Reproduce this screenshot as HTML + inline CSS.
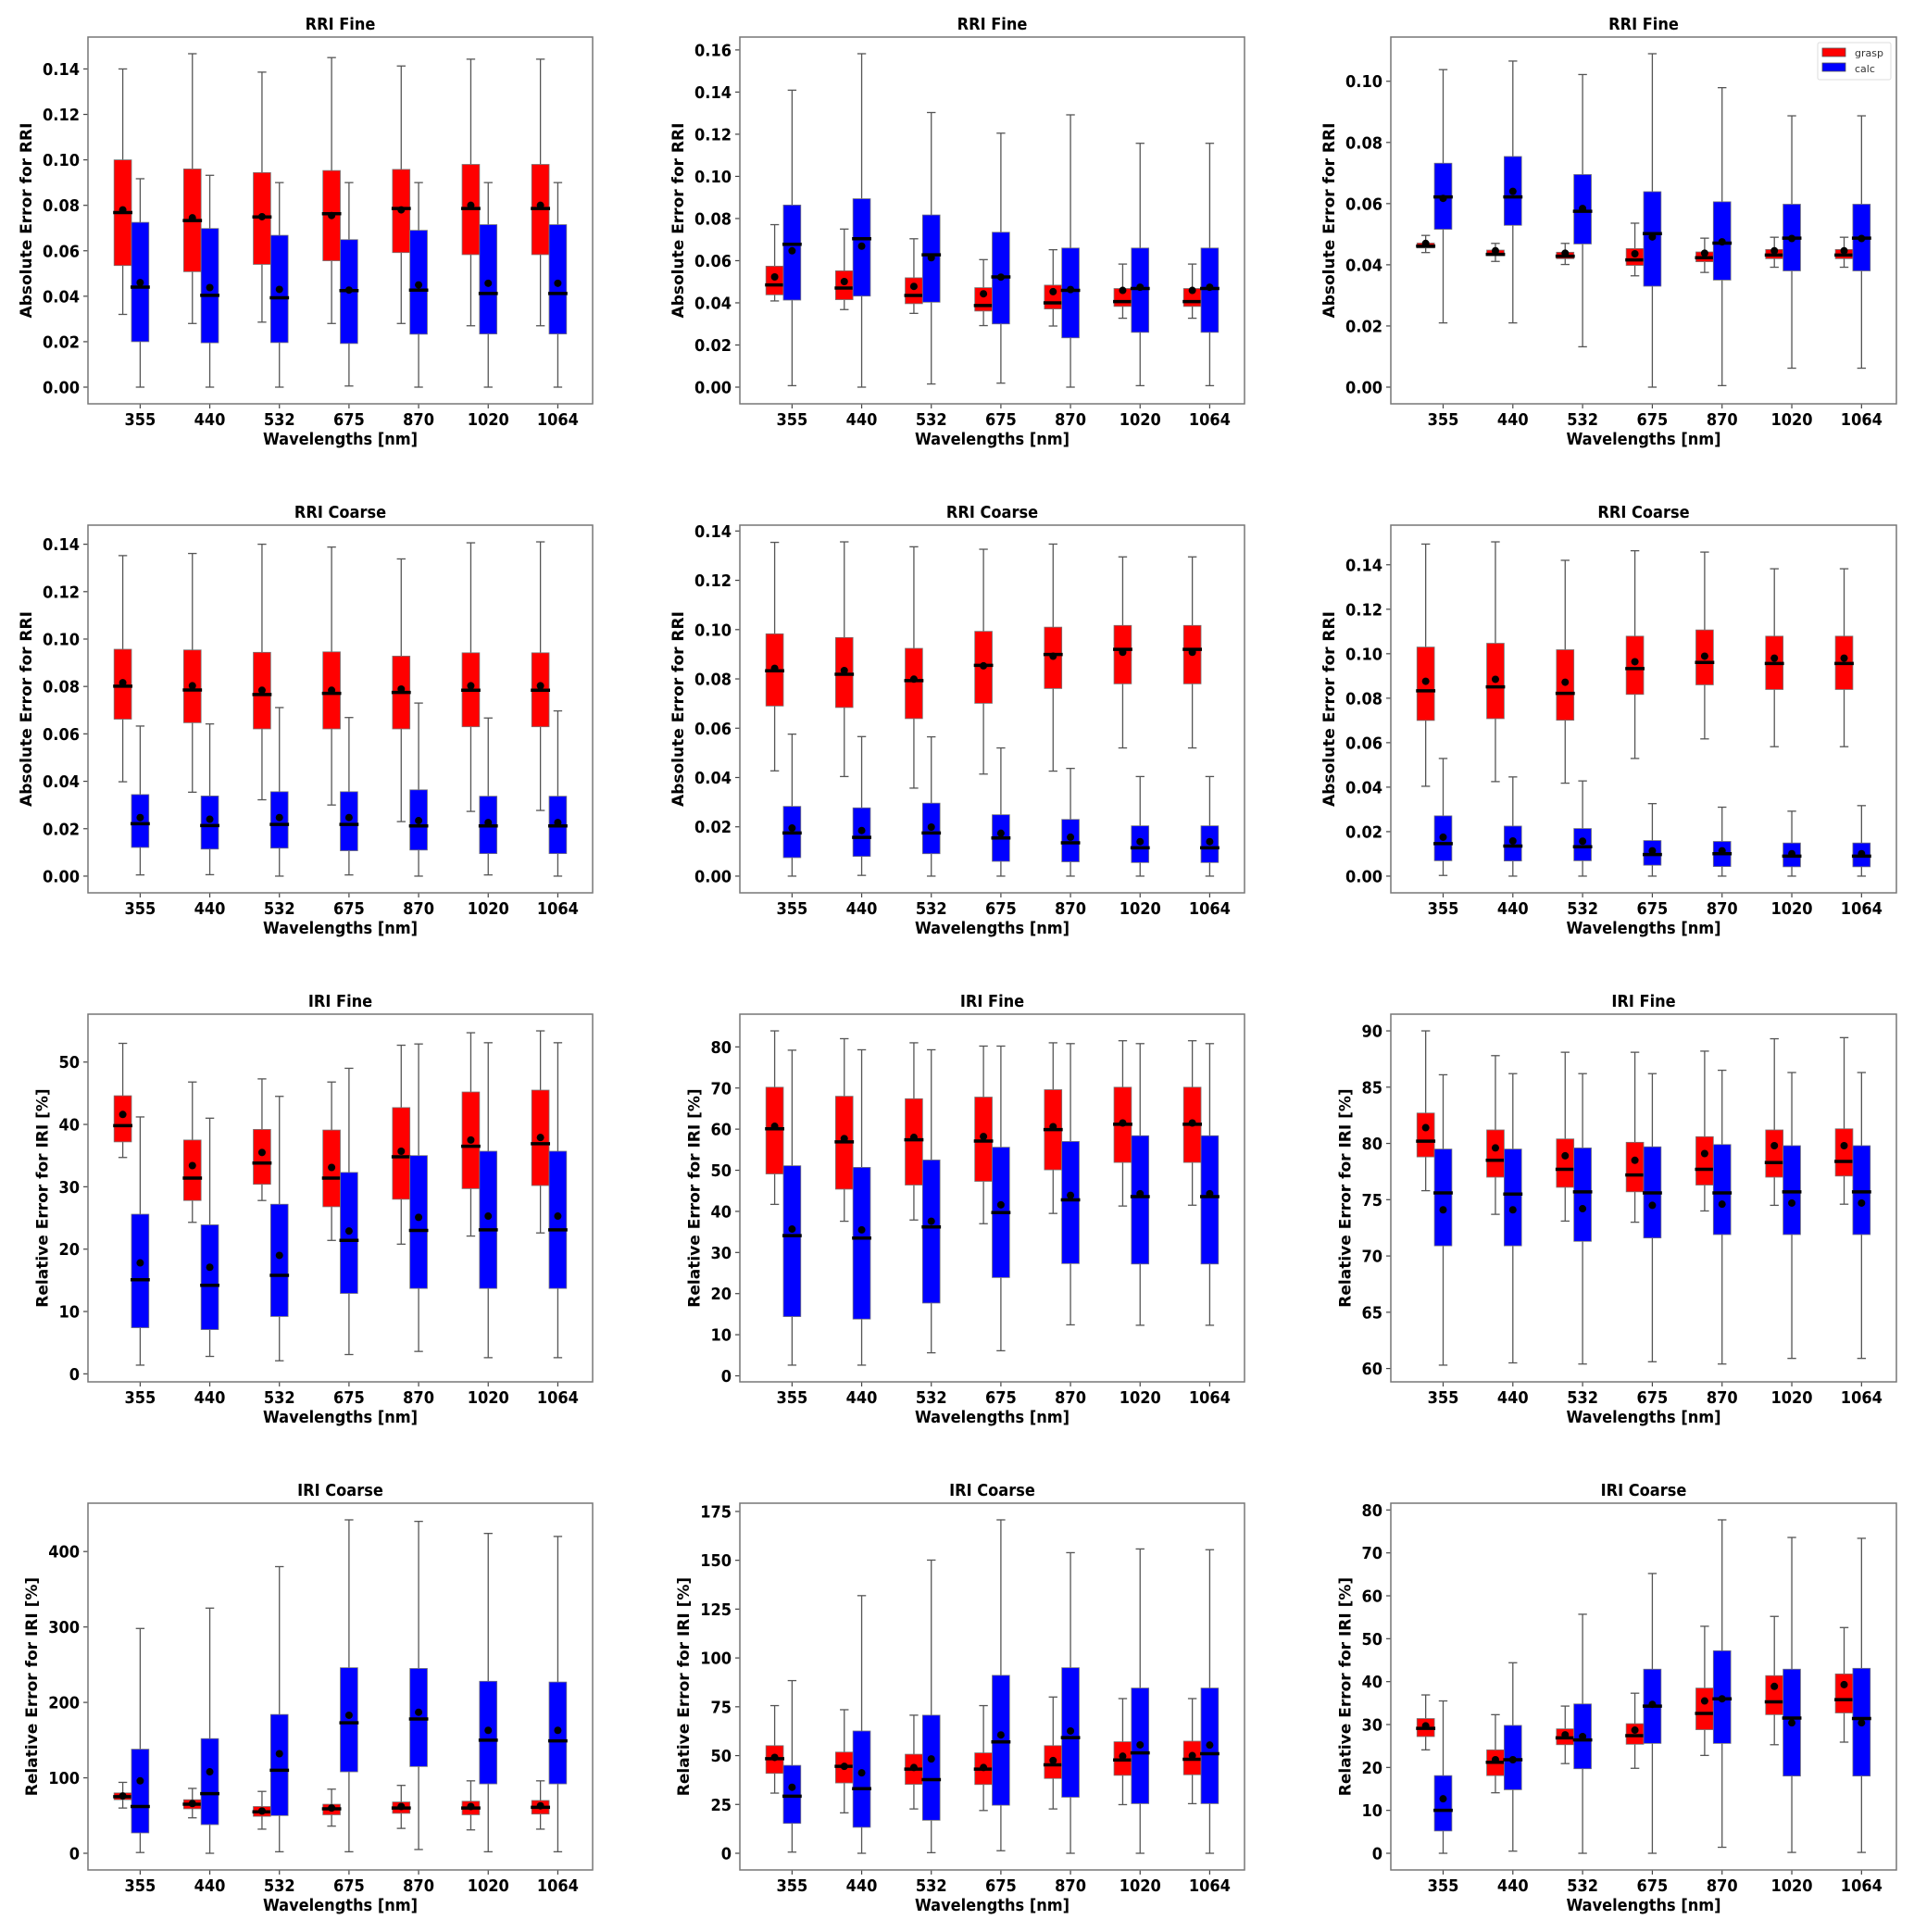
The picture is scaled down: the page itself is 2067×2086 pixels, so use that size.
<!DOCTYPE html>
<html><head><meta charset="utf-8"><title>Boxplots</title>
<style>
html,body{margin:0;padding:0;background:#fff;}
svg{display:block;}
.tk{font-family:"DejaVu Sans Condensed","DejaVu Sans","Liberation Sans",sans-serif;font-stretch:condensed;font-weight:bold;font-size:18px;fill:#000;}
.yl{font-family:"DejaVu Sans","Liberation Sans",sans-serif;font-weight:bold;font-size:17px;fill:#000;}
.lg{font-family:"DejaVu Sans","Liberation Sans",sans-serif;font-size:11px;fill:#333;}
</style></head>
<body>
<svg id="fig" width="2067" height="2086" viewBox="0 0 2067 2086" xmlns="http://www.w3.org/2000/svg"></svg>
<script>
const categories = ["355","440","532","675","870","1020","1064"];
// Panel 1: RRI Fine (col 1)
const p1_gLo=[0.032,0.028,0.0286,0.028,0.028,0.027,0.027];
const p1_gQ1=[0.0535,0.0508,0.054,0.0556,0.0592,0.0583,0.0583];
const p1_gMed=[0.0768,0.0733,0.0749,0.0763,0.0786,0.0786,0.0786];
const p1_gQ3=[0.100,0.096,0.0944,0.0953,0.0958,0.098,0.098];
const p1_gHi=[0.140,0.1467,0.1386,0.145,0.1413,0.1443,0.1443];
const p1_gMean=[0.078,0.0745,0.075,0.0755,0.078,0.080,0.080];
const p1_cLo=[0,0,0,0.0005,0,0,0];
const p1_cQ1=[0.020,0.0195,0.0196,0.0192,0.0233,0.0234,0.0234];
const p1_cMed=[0.044,0.0404,0.0393,0.0425,0.0427,0.0412,0.0412];
const p1_cQ3=[0.0725,0.0698,0.0668,0.0649,0.069,0.0715,0.0715];
const p1_cHi=[0.0917,0.0932,0.090,0.090,0.090,0.090,0.090];
const p1_cMean=[0.046,0.0438,0.043,0.0427,0.045,0.0457,0.0457];
// Panel 2: RRI Fine (col 2)
const p2_gLo=[0.0409,0.0368,0.035,0.0292,0.029,0.0327,0.0327];
const p2_gQ1=[0.0438,0.0415,0.0396,0.0361,0.0371,0.0383,0.0383];
const p2_gMed=[0.0485,0.047,0.0435,0.0387,0.040,0.0406,0.0406];
const p2_gQ3=[0.0574,0.0552,0.0519,0.0472,0.0484,0.0468,0.0468];
const p2_gHi=[0.0771,0.075,0.0704,0.0605,0.0652,0.0584,0.0584];
const p2_gMean=[0.0523,0.0501,0.0478,0.0443,0.0453,0.0459,0.0459];
const p2_cLo=[0.0007,0,0.0015,0.0019,0,0.0007,0.0007];
const p2_cQ1=[0.0413,0.0432,0.0403,0.030,0.0234,0.026,0.026];
const p2_cMed=[0.0678,0.0704,0.0628,0.0523,0.0459,0.0468,0.0468];
const p2_cQ3=[0.0864,0.0894,0.0817,0.0735,0.066,0.066,0.066];
const p2_cHi=[0.1409,0.1582,0.1303,0.1205,0.1292,0.1157,0.1157];
const p2_cMean=[0.0647,0.0669,0.0614,0.0522,0.0463,0.0474,0.0474];
// Panel 3: RRI Fine (col 3)
const p3_gLo=[0.044,0.0411,0.0401,0.0364,0.0375,0.0392,0.0392];
const p3_gQ1=[0.0455,0.043,0.042,0.0398,0.041,0.042,0.042];
const p3_gMed=[0.0461,0.0434,0.0428,0.0416,0.0423,0.0432,0.0432];
const p3_gQ3=[0.0471,0.0448,0.0441,0.0453,0.0442,0.045,0.045];
const p3_gHi=[0.0496,0.047,0.047,0.0536,0.0487,0.049,0.049];
const p3_gMean=[0.047,0.0446,0.0438,0.0436,0.0438,0.0446,0.0446];
const p3_cLo=[0.021,0.021,0.0132,0,0.0005,0.0062,0.0062];
const p3_cQ1=[0.0516,0.0529,0.0468,0.033,0.035,0.038,0.038];
const p3_cMed=[0.0622,0.0622,0.0575,0.0502,0.0471,0.0487,0.0487];
const p3_cQ3=[0.0732,0.0754,0.0695,0.0639,0.0606,0.0598,0.0598];
const p3_cHi=[0.1038,0.1066,0.1022,0.109,0.0979,0.0887,0.0887];
const p3_cMean=[0.0617,0.064,0.0584,0.0491,0.0475,0.0486,0.0486];
// Panel 4: RRI Coarse (col 1)
const p4_gLo=[0.0398,0.0354,0.0322,0.030,0.023,0.0273,0.0277];
const p4_gQ1=[0.0662,0.0647,0.0621,0.0621,0.0621,0.063,0.063];
const p4_gMed=[0.0801,0.0785,0.0766,0.0771,0.0775,0.0784,0.0784];
const p4_gQ3=[0.0957,0.0954,0.0944,0.0946,0.0928,0.0942,0.0942];
const p4_gHi=[0.1352,0.1361,0.140,0.1388,0.1338,0.1406,0.141];
const p4_gMean=[0.0816,0.0803,0.0784,0.0784,0.0789,0.0803,0.0803];
const p4_cLo=[0.0005,0.0006,0,0.0005,0,0.0005,0];
const p4_cQ1=[0.0121,0.0114,0.0118,0.0107,0.011,0.0095,0.0095];
const p4_cMed=[0.0221,0.0213,0.0218,0.0218,0.0212,0.0212,0.0212];
const p4_cQ3=[0.0344,0.0338,0.0356,0.0356,0.0364,0.0337,0.0337];
const p4_cHi=[0.0633,0.0642,0.0711,0.0669,0.073,0.0667,0.0697];
const p4_cMean=[0.0247,0.024,0.0247,0.0247,0.0234,0.0226,0.0226];
// Panel 5: RRI Coarse (col 2)
const p5_gLo=[0.0427,0.0404,0.0357,0.0414,0.0426,0.052,0.052];
const p5_gQ1=[0.069,0.0684,0.0639,0.0701,0.0761,0.078,0.078];
const p5_gMed=[0.0833,0.0819,0.0793,0.0855,0.0899,0.092,0.092];
const p5_gQ3=[0.0983,0.0968,0.0924,0.0993,0.101,0.1017,0.1017];
const p5_gHi=[0.1354,0.1356,0.1336,0.1326,0.1347,0.1295,0.1295];
const p5_gMean=[0.0843,0.0834,0.0799,0.0853,0.0892,0.0908,0.0908];
const p5_cLo=[0,0.0003,0,0,0,0,0];
const p5_cQ1=[0.0075,0.008,0.0091,0.006,0.0058,0.0055,0.0055];
const p5_cMed=[0.0175,0.0157,0.0175,0.0155,0.0135,0.0115,0.0115];
const p5_cQ3=[0.0283,0.0277,0.0296,0.0249,0.023,0.0204,0.0204];
const p5_cHi=[0.0576,0.0566,0.0565,0.052,0.0437,0.0404,0.0404];
const p5_cMean=[0.0195,0.0185,0.0199,0.0174,0.0158,0.014,0.014];
// Panel 6: RRI Coarse (col 3)
const p6_gLo=[0.0404,0.0425,0.0418,0.0529,0.0617,0.0582,0.0582];
const p6_gQ1=[0.070,0.0708,0.0701,0.0817,0.086,0.0839,0.0839];
const p6_gMed=[0.0833,0.0851,0.0822,0.0933,0.0961,0.0956,0.0956];
const p6_gQ3=[0.103,0.1047,0.1018,0.1079,0.1107,0.1079,0.1079];
const p6_gHi=[0.1493,0.1503,0.142,0.1463,0.1457,0.1382,0.1382];
const p6_gMean=[0.0876,0.0885,0.0872,0.0964,0.0989,0.098,0.098];
const p6_cLo=[0.0003,0,0,0,0,0,0];
const p6_cQ1=[0.0069,0.0068,0.0069,0.0049,0.0043,0.0042,0.0042];
const p6_cMed=[0.0146,0.0135,0.0132,0.0097,0.0101,0.009,0.009];
const p6_cQ3=[0.0271,0.0225,0.0214,0.016,0.0156,0.0149,0.0149];
const p6_cHi=[0.0529,0.0446,0.0428,0.0326,0.031,0.0292,0.0317];
const p6_cMean=[0.0175,0.0158,0.0157,0.0114,0.0114,0.0101,0.0101];
// Panel 7: IRI Fine (col 1)
const p7_gLo=[34.7,24.3,27.8,21.4,20.8,22.1,22.6];
const p7_gQ1=[37.2,27.8,30.4,26.8,28.0,29.7,30.2];
const p7_gMed=[39.8,31.4,33.8,31.4,34.8,36.5,36.9];
const p7_gQ3=[44.6,37.5,39.2,39.1,42.7,45.2,45.5];
const p7_gHi=[53.0,46.8,47.3,46.8,52.7,54.7,55.0];
const p7_gMean=[41.6,33.4,35.5,33.1,35.7,37.5,37.9];
const p7_cLo=[1.4,2.8,2.1,3.1,3.6,2.6,2.6];
const p7_cQ1=[7.4,7.1,9.2,12.9,13.7,13.7,13.7];
const p7_cMed=[15.1,14.2,15.8,21.4,23.0,23.1,23.1];
const p7_cQ3=[25.6,23.9,27.2,32.3,35.0,35.7,35.7];
const p7_cHi=[41.2,41.0,44.5,49.0,52.9,53.1,53.1];
const p7_cMean=[17.8,17.1,19.0,22.9,25.1,25.3,25.3];
// Panel 8: IRI Fine (col 2)
const p8_gLo=[41.7,37.6,37.9,37.0,39.5,41.3,41.5];
const p8_gQ1=[49.1,45.4,46.4,47.3,50.1,51.9,51.9];
const p8_gMed=[60.1,56.9,57.4,57.1,59.9,61.2,61.2];
const p8_gQ3=[70.2,68.0,67.4,67.8,69.6,70.2,70.2];
const p8_gHi=[83.9,82.0,81.0,80.2,81.0,81.5,81.5];
const p8_gMean=[60.7,57.7,58.0,58.2,60.6,61.5,61.5];
const p8_cLo=[2.6,2.6,5.6,6.1,12.4,12.3,12.3];
const p8_cQ1=[14.4,13.8,17.7,23.9,27.3,27.2,27.2];
const p8_cMed=[34.1,33.5,36.2,39.7,42.8,43.6,43.6];
const p8_cQ3=[51.1,50.7,52.5,55.6,57.0,58.4,58.4];
const p8_cHi=[79.2,79.3,79.3,80.2,80.8,80.8,80.8];
const p8_cMean=[35.7,35.5,37.6,41.6,43.9,44.3,44.3];
// Panel 9: IRI Fine (col 3)
const p9_gLo=[75.8,73.7,73.1,73.0,74.0,74.5,74.6];
const p9_gQ1=[78.8,77.0,76.1,75.7,76.3,77.0,77.1];
const p9_gMed=[80.2,78.5,77.7,77.2,77.7,78.3,78.4];
const p9_gQ3=[82.7,81.2,80.4,80.1,80.6,81.2,81.3];
const p9_gHi=[90.0,87.8,88.1,88.1,88.2,89.3,89.4];
const p9_gMean=[81.4,79.6,78.9,78.5,79.1,79.8,79.8];
const p9_cLo=[60.3,60.5,60.4,60.6,60.4,60.9,60.9];
const p9_cQ1=[70.9,70.9,71.3,71.6,71.9,71.9,71.9];
const p9_cMed=[75.6,75.5,75.7,75.6,75.6,75.7,75.7];
const p9_cQ3=[79.5,79.5,79.6,79.7,79.9,79.8,79.8];
const p9_cHi=[86.1,86.2,86.2,86.2,86.5,86.3,86.3];
const p9_cMean=[74.1,74.1,74.2,74.5,74.6,74.7,74.7];
// Panel 10: IRI Coarse (col 1)
const p10_gLo=[60,47,32,36,33,31,32];
const p10_gQ1=[71,59,49,51,53,51,52];
const p10_gMed=[75,65,55,59,60,60,61];
const p10_gQ3=[80,71,62,65,68,69,70];
const p10_gHi=[94,86,82,85,90,96,96];
const p10_gMean=[76,66,56,60,62,62,63];
const p10_cLo=[1,0,2,2,5,2,2];
const p10_cQ1=[27,38,50,108,115,92,92];
const p10_cMed=[62,79,110,173,178,150,149];
const p10_cQ3=[138,152,184,246,245,228,227];
const p10_cHi=[298,325,380,442,440,424,420];
const p10_cMean=[96,108,132,183,187,163,163];
// Panel 11: IRI Coarse (col 2)
const p11_gLo=[30.8,20.7,22.7,21.9,22.7,24.9,25.4];
const p11_gQ1=[40.9,36.0,35.3,35.2,38.3,39.9,40.2];
const p11_gMed=[48.4,44.5,43.1,43.1,45.3,47.8,48.1];
const p11_gQ3=[55.1,51.8,50.7,51.4,55.1,57.1,57.4];
const p11_gHi=[75.6,73.5,70.7,75.6,80.0,79.2,79.2];
const p11_gMean=[49.1,44.5,43.9,43.9,47.5,49.7,50.0];
const p11_cLo=[0.6,0,0.3,1.3,0,0,0];
const p11_cQ1=[15.3,13.3,16.9,24.6,28.7,25.4,25.4];
const p11_cMed=[29.2,33.1,37.7,57.0,59.2,51.4,51.0];
const p11_cQ3=[45.0,62.6,70.7,91.1,95.0,84.6,84.6];
const p11_cHi=[88.4,131.9,150.1,170.7,153.9,155.8,155.4];
const p11_cMean=[33.8,41.2,48.3,60.6,62.6,55.5,55.4];
// Panel 12: IRI Coarse (col 3)
const p12_gLo=[24.1,14.1,20.9,19.8,22.8,25.3,25.9];
const p12_gQ1=[27.2,18.1,25.3,25.4,28.8,32.3,32.7];
const p12_gMed=[29.1,21.2,26.9,27.4,32.6,35.3,35.8];
const p12_gQ3=[31.4,24.1,29.0,30.2,38.5,41.4,41.8];
const p12_gHi=[36.9,32.3,34.3,37.3,52.9,55.2,52.6];
const p12_gMean=[29.7,21.8,27.6,28.7,35.5,38.9,39.3];
const p12_cLo=[0,0.5,0,0,1.4,0.2,0.2];
const p12_cQ1=[5.2,14.8,19.7,25.6,25.6,18.0,18.0];
const p12_cMed=[10.0,21.8,26.4,34.3,36.0,31.5,31.4];
const p12_cQ3=[18.1,29.8,34.8,42.9,47.2,42.9,43.1];
const p12_cHi=[35.5,44.4,55.7,65.2,77.7,73.6,73.4];
const p12_cMean=[12.7,21.8,27.2,34.7,36.0,30.4,30.4];

const ticks_rri14=["0.00","0.02","0.04","0.06","0.08","0.10","0.12","0.14"];
const ticks_rri16=["0.00","0.02","0.04","0.06","0.08","0.10","0.12","0.14","0.16"];
const ticks_rri10=["0.00","0.02","0.04","0.06","0.08","0.10"];
const ticks_iri50=["0","10","20","30","40","50"];
const ticks_iri80=["0","10","20","30","40","50","60","70","80"];
const ticks_iri90=["60","65","70","75","80","85","90"];
const ticks_iri400=["0","100","200","300","400"];
const ticks_iri175=["0","25","50","75","100","125","150","175"];

const NS="http://www.w3.org/2000/svg";
const svg=document.getElementById('fig');
const colL=[95,799,1502], colR=[640,1344,2048];
const rowT=[40,567,1095,1623], rowB=[436,964,1492,2019];

function mk(tag,attrs,parent){const e=document.createElementNS(NS,tag);for(const k in attrs)e.setAttribute(k,attrs[k]);(parent||svg).appendChild(e);return e;}

const panels=[
 {t:"RRI Fine",yl:"Absolute Error for RRI",tk:ticks_rri14,p:"p1"},
 {t:"RRI Fine",yl:"Absolute Error for RRI",tk:ticks_rri16,p:"p2"},
 {t:"RRI Fine",yl:"Absolute Error for RRI",tk:ticks_rri10,p:"p3",legend:true},
 {t:"RRI Coarse",yl:"Absolute Error for RRI",tk:ticks_rri14,p:"p4"},
 {t:"RRI Coarse",yl:"Absolute Error for RRI",tk:ticks_rri14,p:"p5"},
 {t:"RRI Coarse",yl:"Absolute Error for RRI",tk:ticks_rri14,p:"p6"},
 {t:"IRI Fine",yl:"Relative Error for IRI [%]",tk:ticks_iri50,p:"p7"},
 {t:"IRI Fine",yl:"Relative Error for IRI [%]",tk:ticks_iri80,p:"p8"},
 {t:"IRI Fine",yl:"Relative Error for IRI [%]",tk:ticks_iri90,p:"p9"},
 {t:"IRI Coarse",yl:"Relative Error for IRI [%]",tk:ticks_iri400,p:"p10"},
 {t:"IRI Coarse",yl:"Relative Error for IRI [%]",tk:ticks_iri175,p:"p11"},
 {t:"IRI Coarse",yl:"Relative Error for IRI [%]",tk:ticks_iri80,p:"p12"}
];
const DATA={p1:[p1_gLo,p1_gQ1,p1_gMed,p1_gQ3,p1_gHi,p1_gMean,p1_cLo,p1_cQ1,p1_cMed,p1_cQ3,p1_cHi,p1_cMean],
p2:[p2_gLo,p2_gQ1,p2_gMed,p2_gQ3,p2_gHi,p2_gMean,p2_cLo,p2_cQ1,p2_cMed,p2_cQ3,p2_cHi,p2_cMean],
p3:[p3_gLo,p3_gQ1,p3_gMed,p3_gQ3,p3_gHi,p3_gMean,p3_cLo,p3_cQ1,p3_cMed,p3_cQ3,p3_cHi,p3_cMean],
p4:[p4_gLo,p4_gQ1,p4_gMed,p4_gQ3,p4_gHi,p4_gMean,p4_cLo,p4_cQ1,p4_cMed,p4_cQ3,p4_cHi,p4_cMean],
p5:[p5_gLo,p5_gQ1,p5_gMed,p5_gQ3,p5_gHi,p5_gMean,p5_cLo,p5_cQ1,p5_cMed,p5_cQ3,p5_cHi,p5_cMean],
p6:[p6_gLo,p6_gQ1,p6_gMed,p6_gQ3,p6_gHi,p6_gMean,p6_cLo,p6_cQ1,p6_cMed,p6_cQ3,p6_cHi,p6_cMean],
p7:[p7_gLo,p7_gQ1,p7_gMed,p7_gQ3,p7_gHi,p7_gMean,p7_cLo,p7_cQ1,p7_cMed,p7_cQ3,p7_cHi,p7_cMean],
p8:[p8_gLo,p8_gQ1,p8_gMed,p8_gQ3,p8_gHi,p8_gMean,p8_cLo,p8_cQ1,p8_cMed,p8_cQ3,p8_cHi,p8_cMean],
p9:[p9_gLo,p9_gQ1,p9_gMed,p9_gQ3,p9_gHi,p9_gMean,p9_cLo,p9_cQ1,p9_cMed,p9_cQ3,p9_cHi,p9_cMean],
p10:[p10_gLo,p10_gQ1,p10_gMed,p10_gQ3,p10_gHi,p10_gMean,p10_cLo,p10_cQ1,p10_cMed,p10_cQ3,p10_cHi,p10_cMean],
p11:[p11_gLo,p11_gQ1,p11_gMed,p11_gQ3,p11_gHi,p11_gMean,p11_cLo,p11_cQ1,p11_cMed,p11_cQ3,p11_cHi,p11_cMean],
p12:[p12_gLo,p12_gQ1,p12_gMed,p12_gQ3,p12_gHi,p12_gMean,p12_cLo,p12_cQ1,p12_cMed,p12_cQ3,p12_cHi,p12_cMean]};

panels.forEach((P,idx)=>{
  const r=Math.floor(idx/3), c=idx%3;
  const L=colL[c],R=colR[c],T=rowT[r],B=rowB[r];
  const d=DATA[P.p];
  let mn=Infinity,mx=-Infinity;
  d.forEach(a=>a.forEach(v=>{mn=Math.min(mn,v);mx=Math.max(mx,v);}));
  const pad=(mx-mn)*0.05, y0=mn-pad, y1=mx+pad;
  const ys=v=>B-(v-y0)/(y1-y0)*(B-T);
  const xs=u=>L+(u-0.25)/7.25*(R-L);
  const g=mk('g',{});
  
  
  const tt=mk('text',{x:(L+R)/2,y:T-8,'text-anchor':'middle',class:'tk'},g);tt.textContent=P.t;
  
  
  let maxW=0;
  const tg=mk('g',{},g);
  
  
  P.tk.forEach(s=>{
    const y=ys(parseFloat(s));
    mk('line',{x1:L-5,x2:L,y1:y,y2:y,stroke:'#444','stroke-width':1.2},tg);
    const t=mk('text',{x:L-9,y:y+6.5,'text-anchor':'end',class:'tk'},tg);t.textContent=s;
    maxW=Math.max(maxW,t.getComputedTextLength());
  });
  const lx=L-9-maxW-12;
  const yl=mk('text',{x:lx,y:(T+B)/2,'text-anchor':'middle',class:'yl',transform:'rotate(-90 '+lx+' '+((T+B)/2)+')'},g);
  yl.textContent=P.yl;
  
  
  const xg=mk('g',{},g);
  
  
  categories.forEach((cat,i)=>{
    const x=xs(i+1);
    mk('line',{x1:x,x2:x,y1:B,y2:B+5,stroke:'#444','stroke-width':1.2},xg);
    const t=mk('text',{x:x,y:B+23,'text-anchor':'middle',class:'tk'},xg);t.textContent=cat;
  });
  const xl=mk('text',{x:(L+R)/2,y:B+44,'text-anchor':'middle',class:'tk'},g);xl.textContent='Wavelengths [nm]';
  
  
  const series=[{o:0,col:'#ff0000',off:-0.25,n:'grasp'},{o:6,col:'#0000ff',off:0,n:'calc'}];
  const bw=0.25;
  series.forEach(S=>{
    for(let i=0;i<7;i++){
      const lo=d[S.o][i],q1=d[S.o+1][i],med=d[S.o+2][i],q3=d[S.o+3][i],hi=d[S.o+4][i],mean=d[S.o+5][i];
      const cx=xs(i+1+S.off), xa=xs(i+1+S.off-bw/2), xb=xs(i+1+S.off+bw/2), cw=(xb-xa)/4;
      const bg=mk('g',{},g);
      
      
      mk('line',{x1:cx,x2:cx,y1:ys(hi),y2:ys(q3),stroke:'#555','stroke-width':1.3},bg);
      mk('line',{x1:cx,x2:cx,y1:ys(q1),y2:ys(lo),stroke:'#555','stroke-width':1.3},bg);
      mk('line',{x1:cx-cw,x2:cx+cw,y1:ys(hi),y2:ys(hi),stroke:'#555','stroke-width':1.3},bg);
      mk('line',{x1:cx-cw,x2:cx+cw,y1:ys(lo),y2:ys(lo),stroke:'#555','stroke-width':1.3},bg);
      mk('rect',{x:xa,y:ys(q3),width:xb-xa,height:Math.max(0.5,ys(q1)-ys(q3)),fill:S.col,stroke:'#777','stroke-width':0.8},bg);
      mk('line',{x1:xa-1,x2:xb+1,y1:ys(med),y2:ys(med),stroke:'#000','stroke-width':3.5},bg);
      mk('circle',{cx:cx,cy:ys(mean),r:4,fill:'#000'},bg);
    }
  });
  const fr=mk('rect',{x:L,y:T,width:R-L,height:B-T,fill:'none',stroke:'#777','stroke-width':1.5},g);
  
  
  if(P.legend){
    const lg=mk('g',{},g);
    
    
    mk('rect',{x:R-85,y:T+6,width:79,height:40,fill:'#fff',stroke:'#ddd','stroke-width':1,rx:2},lg);
    const e1=mk('rect',{x:R-80,y:T+12,width:25,height:9,fill:'#ff0000',stroke:'#555','stroke-width':0.8},lg);
    
    
    const t1=mk('text',{x:R-45,y:T+21,class:'lg'},lg);t1.textContent='grasp';
    const e2=mk('rect',{x:R-80,y:T+28,width:25,height:9,fill:'#0000ff',stroke:'#555','stroke-width':0.8},lg);
    
    
    const t2=mk('text',{x:R-45,y:T+38,class:'lg'},lg);t2.textContent='calc';
  }
});
</script>
</body></html>
